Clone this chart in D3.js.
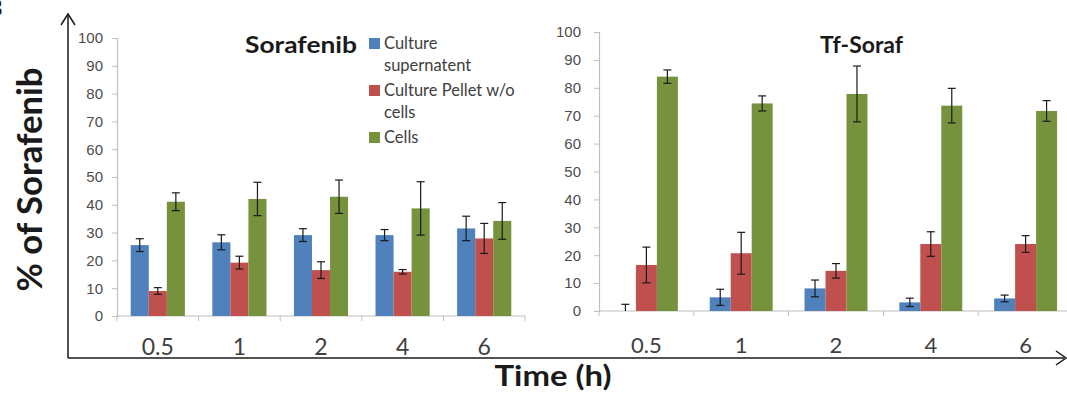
<!DOCTYPE html>
<html>
<head>
<meta charset="utf-8">
<script src="https://cdn.jsdelivr.net/npm/d3@7"></script>
<style>
  body { margin: 0; background: #fff; }
  svg { display: block; font-family: Lato, "Open Sans", sans-serif; }
</style>
</head>
<body>
<svg id="chart" width="1067" height="394"></svg>
<script>
// time points (h)
const categories = ['0.5', '1', '2', '4', '6'];
const seriesNames = ['Culture supernatent', 'Culture Pellet w/o cells', 'Cells'];
const seriesColors = ['#4f81bd', '#c0504d', '#76923c'];
const yTicks = [0, 10, 20, 30, 40, 50, 60, 70, 80, 90, 100];

// Sorafenib panel
const sorafSupernatant = [25.5, 26.5, 29.1, 29.1, 31.5];
const sorafSupernatantErr = [2.3, 2.7, 2.3, 2.0, 4.4];
const sorafPellet = [9.0, 19.2, 16.5, 15.9, 27.9];
const sorafPelletErr = [1.2, 2.3, 3.0, 0.8, 5.4];
const sorafCells = [41.1, 42.1, 42.9, 38.7, 34.2];
const sorafCellsErr = [3.2, 6.0, 6.0, 9.6, 6.6];

// Tf-Soraf panel
const tfSupernatant = [0, 4.9, 8.1, 3.1, 4.5];
const tfSupernatantErr = [2.4, 2.9, 3.0, 1.5, 1.2];
const tfPellet = [16.5, 20.7, 14.4, 24.0, 24.0];
const tfPelletErr = [6.4, 7.5, 2.6, 4.4, 3.0];
const tfCells = [84.0, 74.4, 77.8, 73.6, 71.7];
const tfCellsErr = [2.4, 2.7, 10.0, 6.2, 3.7];

const svg = d3.select('#chart');
const axisGray = '#bfbfbf';
const labelGray = '#4d4d4d';

function buildRows(vals, errs) {
  const rows = [];
  categories.forEach((c, i) => {
    vals.forEach((v, s) => {
      rows.push({cat: c, series: seriesNames[s], value: v[i], err: errs[s][i], color: seriesColors[s]});
    });
  });
  return rows;
}

function drawPanel(opts) {
  const x = d3.scaleBand().domain(categories).range([opts.x0, opts.x1]).paddingInner(0).paddingOuter(0);
  const xs = d3.scaleBand().domain(seriesNames).range([0, x.bandwidth()]).paddingInner(0).paddingOuter(0.76);
  const y = d3.scaleLinear().domain([0, 100]).range([opts.y0, opts.y1]);

  const g = svg.append('g');

  // y axis
  const yAxis = g.append('g')
    .attr('transform', `translate(${opts.x0},0)`)
    .call(d3.axisLeft(y).tickValues(yTicks).tickSize(5).tickPadding(opts.tickPad));
  yAxis.select('.domain').attr('stroke', axisGray).attr('stroke-width', 1.2);
  yAxis.selectAll('.tick line').attr('stroke', axisGray);
  yAxis.selectAll('.tick text')
    .attr('fill', labelGray)
    .attr('font-size', 15);

  // x axis line + boundary ticks
  g.append('line')
    .attr('x1', opts.x0).attr('x2', opts.x1)
    .attr('y1', y(0)).attr('y2', y(0))
    .attr('stroke', axisGray).attr('stroke-width', 1.2);
  const bounds = categories.map(c => x(c)).concat([opts.x1]);
  g.selectAll('.xtick').data(bounds).enter().append('line')
    .attr('x1', d => d).attr('x2', d => d)
    .attr('y1', y(0)).attr('y2', y(0) + 5)
    .attr('stroke', axisGray);
  g.selectAll('.xlab').data(categories).enter().append('text')
    .attr('x', d => x(d) + x.bandwidth() / 2)
    .attr('y', opts.labelY)
    .attr('text-anchor', 'middle')
    .attr('fill', '#404040')
    .attr('font-size', opts.labelSize)
    .text(d => d);

  // bars
  const rows = buildRows(opts.values, opts.errors);
  g.selectAll('.bar').data(rows).enter().append('rect')
    .attr('x', d => x(d.cat) + xs(d.series))
    .attr('y', d => y(d.value))
    .attr('width', xs.bandwidth())
    .attr('height', d => y(0) - y(d.value))
    .attr('fill', d => d.color);

  // error bars
  const eb = g.selectAll('.err').data(rows).enter().append('g')
    .attr('stroke', '#1a1a1a').attr('stroke-width', 1.2);
  const cx = d => x(d.cat) + xs(d.series) + xs.bandwidth() / 2;
  eb.append('line')
    .attr('x1', cx).attr('x2', cx)
    .attr('y1', d => y(Math.max(0, d.value - d.err)))
    .attr('y2', d => y(d.value + d.err));
  eb.append('line')
    .attr('x1', d => cx(d) - 4).attr('x2', d => cx(d) + 4)
    .attr('y1', d => y(d.value + d.err)).attr('y2', d => y(d.value + d.err));
  eb.filter(d => d.value - d.err > 0).append('line')
    .attr('x1', d => cx(d) - 4).attr('x2', d => cx(d) + 4)
    .attr('y1', d => y(d.value - d.err)).attr('y2', d => y(d.value - d.err));

  // title
  g.append('text')
    .attr('x', opts.titleX).attr('y', 53)
    .attr('font-weight', 'bold')
    .attr('font-size', 23)
    .attr('fill', '#1a1a1a')
    .attr('textLength', opts.titleLen)
    .attr('lengthAdjust', 'spacingAndGlyphs')
    .text(opts.title);
}

drawPanel({
  x0: 117, x1: 525, y0: 316, y1: 38, tickPad: 9,
  labelY: 355, labelSize: 23,
  values: [sorafSupernatant, sorafPellet, sorafCells],
  errors: [sorafSupernatantErr, sorafPelletErr, sorafCellsErr],
  title: 'Sorafenib', titleX: 245, titleLen: 112
});

drawPanel({
  x0: 599, x1: 1073, y0: 311, y1: 32, tickPad: 13,
  labelY: 353, labelSize: 22,
  values: [tfSupernatant, tfPellet, tfCells],
  errors: [tfSupernatantErr, tfPelletErr, tfCellsErr],
  title: 'Tf-Soraf', titleX: 820, titleLen: 83
});

// legend
const legendRows = [
  {lines: ['Culture', 'supernatent'], color: seriesColors[0], y: 43},
  {lines: ['Culture Pellet w/o', 'cells'], color: seriesColors[1], y: 90},
  {lines: ['Cells'], color: seriesColors[2], y: 137}
];
const lg = svg.append('g');
legendRows.forEach(r => {
  lg.append('rect').attr('x', 369).attr('y', r.y - 5).attr('width', 11).attr('height', 11).attr('fill', r.color);
  r.lines.forEach((t, i) => {
    lg.append('text')
      .attr('x', 384).attr('y', r.y + 6 + i * 22)
      .attr('font-size', 16.5)
      .attr('fill', '#404040')
      .text(t);
  });
});

// outer frame with arrows
const frame = svg.append('g').attr('stroke', '#1a1a1a').attr('stroke-width', 1.5).attr('fill', 'none');
frame.append('path').attr('d', 'M68,358 V14');
frame.append('path').attr('d', 'M61,25 L68,14 L75,25');
frame.append('path').attr('d', 'M68,358 H1064');
frame.append('path').attr('d', 'M1056,351 L1066,358 L1056,365');

// axis titles
svg.append('text')
  .attr('transform', 'translate(42,179.5) rotate(-90)')
  .attr('text-anchor', 'middle')
  .attr('font-weight', 'bold')
  .attr('font-size', 34)
  .attr('fill', '#1a1a1a')
  .attr('textLength', 224)
  .attr('lengthAdjust', 'spacingAndGlyphs')
  .text('% of Sorafenib');

svg.append('text')
  .attr('x', 553).attr('y', 386)
  .attr('text-anchor', 'middle')
  .attr('font-weight', 'bold')
  .attr('font-size', 29)
  .attr('fill', '#1a1a1a')
  .attr('textLength', 117)
  .attr('lengthAdjust', 'spacingAndGlyphs')
  .text('Time (h)');

// panel letter, cropped at the edge
svg.append('text')
  .attr('x', -12).attr('y', 16)
  .attr('font-weight', 'bold')
  .attr('font-size', 22)
  .attr('fill', '#1a1a1a')
  .text('B');
</script>
</body>
</html>
